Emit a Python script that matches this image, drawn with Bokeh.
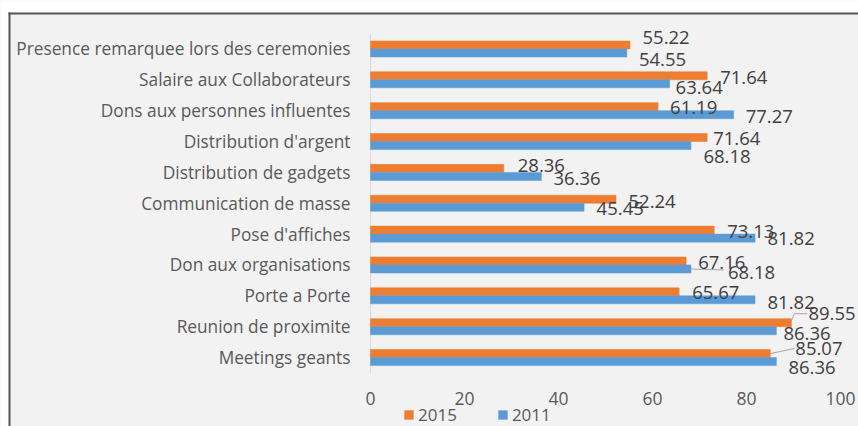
from bokeh.plotting import figure
from bokeh.models import (ColumnDataSource, LabelSet, Range1d, FixedTicker,
                          Legend, LegendItem)
from bokeh.embed import file_html
from bokeh.resources import INLINE
from bokeh.core.properties import value

# ---- data (bottom to top, as in the source table) ----
categories = ["Meetings geants", "Reunion de proximite", "Porte a Porte",
              "Don aux organisations", "Pose d'affiches", "Communication de masse",
              "Distribution de gadgets", "Distribution d'argent",
              "Dons aux personnes influentes", "Salaire aux Collaborateurs",
              "Presence remarquee lors des ceremonies"]
values_2015 = [85.07, 89.55, 65.67, 67.16, 73.13, 52.24, 28.36, 71.64, 61.19, 71.64, 55.22]
values_2011 = [86.36, 86.36, 81.82, 68.18, 81.82, 45.45, 36.36, 68.18, 77.27, 63.64, 54.55]
x_ticks = [0, 20, 40, 60, 80, 100]
series_names = ["2015", "2011"]

# label offsets in screen pixels (dx right, dy up), bottom to top
dx_2015 = [25, 17, 13, 12, 13, 12.5, 14, 6, 12, 13, 12.5]
dy_2015 = [4.6, 9, -1, -2, -1.7, -2.5, 2.7, -1, -1, -1.8, 7.4]
dx_2011 = [12, 7, 12.5, 37, 12.5, 12.5, 12, 12.5, 12, 6, 12]
dy_2011 = [-6.4, -3, -3, -4, -0.7, -1.5, -2.3, -11, -2, -3.8, -6.6]

ORANGE = "#ED7D31"
BLUE = "#5B9BD5"
TEXT = "#595959"
LABEL = "#404040"
FONT = "Open Sans"

# ---- layout (canvas pixels) ----
W, H = 858, 426
ZERO_X = 370          # canvas x of value 0
PX_X = 4.7            # pixels per value unit
BAND_TOP = 33         # canvas y of the top of the category bands
BAND_H = 339.5        # height of all category bands
n = len(categories)
PX_Y = BAND_H / n
BAR_H = 0.26

x_lo = -ZERO_X / PX_X
x_hi = (W - ZERO_X) / PX_X
y_hi = n - 0.5 + BAND_TOP / PX_Y
y_lo = -0.5 - (H - BAND_TOP - BAND_H) / PX_Y

idx = list(range(n))
src = ColumnDataSource(dict(
    y15=[i + BAR_H / 2 for i in idx], y11=[i - BAR_H / 2 for i in idx],
    v15=values_2015, v11=values_2011,
    t15=["%.2f" % v for v in values_2015], t11=["%.2f" % v for v in values_2011],
    dx15=dx_2015, dy15=dy_2015, dx11=dx_2011, dy11=dy_2011,
))

p = figure(width=W, height=H, output_backend="svg", toolbar_location=None,
           x_range=Range1d(x_lo, x_hi), y_range=Range1d(y_lo, y_hi),
           min_border_left=0, min_border_right=0,
           min_border_top=0, min_border_bottom=0)
p.title.visible = False
p.background_fill_color = "#f2f2f2"
p.border_fill_color = "#f2f2f2"
p.outline_line_color = None
p.xgrid.visible = False
p.ygrid.visible = False

# chart border: white page strip above / left, dark rules at top and left
px_h = 1 / PX_Y
px_w = 1 / PX_X
p.quad(left=[x_lo, x_lo], right=[x_hi, x_lo + 8 * px_w],
       top=[y_hi, y_hi], bottom=[y_hi - 12 * px_h, y_lo],
       fill_color="white", line_color=None)
p.quad(left=[x_lo + 8 * px_w, x_lo + 8 * px_w], right=[x_hi, x_lo + 10 * px_w],
       top=[y_hi - 12 * px_h, y_hi - 12 * px_h], bottom=[y_hi - 14 * px_h, y_lo],
       fill_color="#555555", line_color=None)

# value axis line at 0
p.segment(x0=0, y0=-0.5, x1=0, y1=n - 0.5, line_color="#d9d9d9", line_width=1)

r15 = p.hbar(y="y15", right="v15", left=0, height=BAR_H, source=src,
             fill_color=ORANGE, line_color=ORANGE, line_width=0.5)
r11 = p.hbar(y="y11", right="v11", left=0, height=BAR_H, source=src,
             fill_color=BLUE, line_color=BLUE, line_width=0.5)

# leader lines (from bar ends toward displaced labels)
i_org = categories.index("Don aux organisations")
i_reu = categories.index("Reunion de proximite")
i_mee = categories.index("Meetings geants")
lx = [
    [values_2011[i_org], values_2011[i_org] + 33 * px_w],
    [values_2015[i_reu], values_2015[i_reu] + 3 * px_w, values_2015[i_reu] + 16 * px_w],
    [values_2015[i_mee], values_2015[i_mee] + 24 * px_w],
]
ly = [
    [i_org - BAR_H / 2, i_org - BAR_H / 2 - 1 * px_h],
    [i_reu + BAR_H / 2 + 2 * px_h, i_reu + BAR_H / 2 + 9 * px_h, i_reu + BAR_H / 2 + 9 * px_h],
    [i_mee + BAR_H / 2, i_mee + BAR_H / 2 + 5 * px_h],
]
p.multi_line(xs=lx, ys=ly, line_color="#a6a6a6", line_width=1)

for key in ("15", "11"):
    p.add_layout(LabelSet(x="v" + key, y="y" + key, text="t" + key, source=src,
                          x_offset="dx" + key, y_offset="dy" + key,
                          text_align="left", text_baseline="middle",
                          text_font=value(FONT), text_font_size="18.5px",
                          text_color=LABEL))

# axes (drawn at fixed data locations so the frame fills the canvas)
p.xaxis.fixed_location = -0.5
p.xaxis.ticker = FixedTicker(ticks=x_ticks)
p.xaxis.axis_line_color = None
p.xaxis.major_tick_line_color = None
p.xaxis.minor_tick_line_color = None
p.xaxis.major_tick_out = 0
p.xaxis.major_tick_in = 0
p.xaxis.major_label_standoff = 19
p.xaxis.major_label_text_font = FONT
p.xaxis.major_label_text_font_size = "17.5px"
p.xaxis.major_label_text_color = TEXT

p.yaxis.fixed_location = 0
p.yaxis.ticker = FixedTicker(ticks=idx)
p.yaxis.major_label_overrides = {i: c for i, c in zip(idx, categories)}
p.yaxis.axis_line_color = None
p.yaxis.major_tick_line_color = None
p.yaxis.minor_tick_line_color = None
p.yaxis.major_tick_out = 0
p.yaxis.major_tick_in = 0
p.yaxis.major_label_standoff = 20
p.yaxis.major_label_text_font = FONT
p.yaxis.major_label_text_font_size = "17.3px"
p.yaxis.major_label_text_color = TEXT

legend = Legend(items=[LegendItem(label=series_names[0], renderers=[r15]),
                       LegendItem(label=series_names[1], renderers=[r11])],
                orientation="horizontal", location=(403, 0.5),
                glyph_width=11, glyph_height=11, label_standoff=4, spacing=40,
                label_height=16, padding=0, margin=0,
                label_text_font=FONT, label_text_font_size="17px",
                label_text_color=TEXT, border_line_color=None,
                background_fill_alpha=0)
p.add_layout(legend, "center")

open("out.html", "w").write(file_html(p, INLINE))
